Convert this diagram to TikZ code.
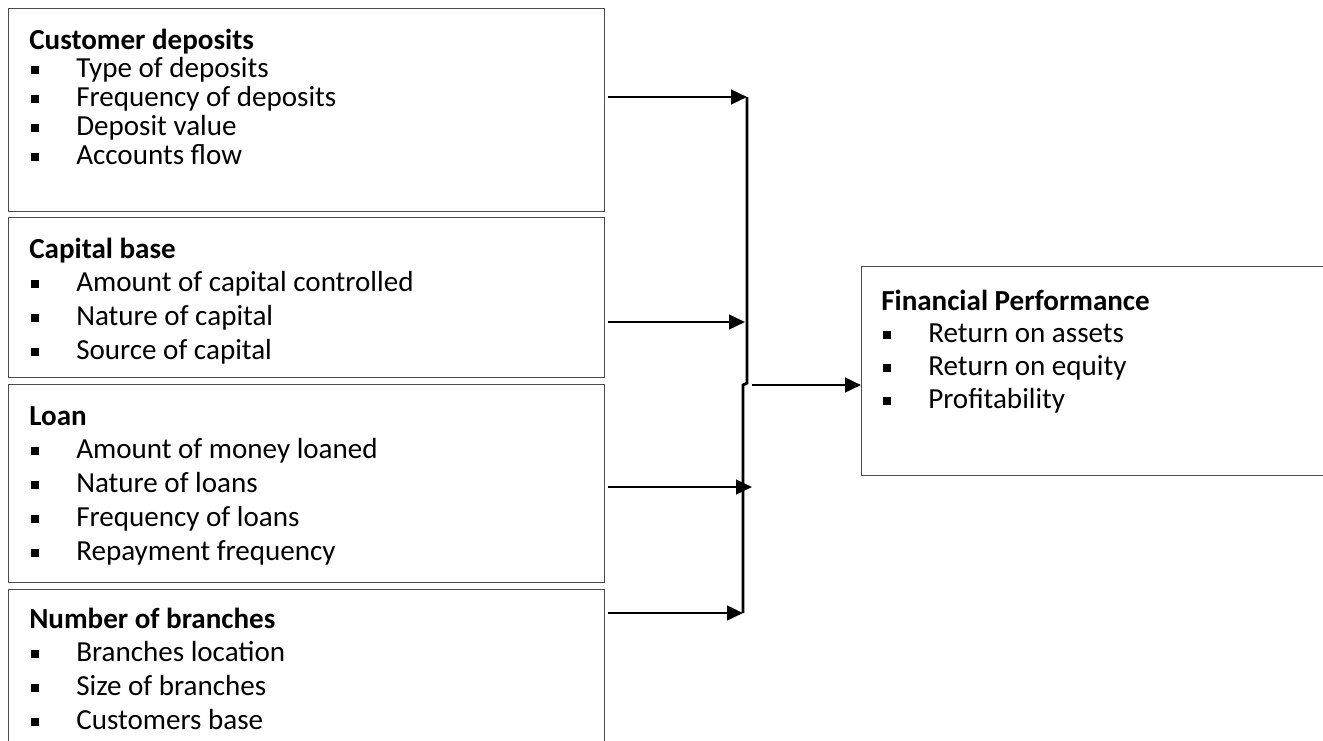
\documentclass[tikz,border=0pt]{standalone}
\usepackage{fontspec}
\setmainfont{Carlito}
\usetikzlibrary{arrows.meta}

\tikzset{
  panel/.style={draw=black!70, line width=0.8pt, anchor=north west, inner sep=0pt},
  entry/.style={anchor=base west, inner sep=0pt, font=\fontsize{21.8}{24}\selectfont},
  head/.style={entry, font=\fontsize{21.8}{24}\selectfont\bfseries},
  feed/.style={line width=1.9pt, -{Triangle[length=12pt,width=11pt]}},
  bus/.style={line width=2.2pt}
}
\newcommand{\bul}[1]{\makebox[35.25pt][l]{\hspace{1.5pt}\rule[0.12em]{6pt}{6pt}}#1}

\begin{document}
\begin{tikzpicture}[x=0.75pt,y=-0.75pt]
    \clip (0,0) rectangle (1323,740);

    % the four driver boxes and the outcome box
    \node[panel, minimum width=447pt, minimum height=152.25pt] (deposits) at (8,8) {};
    \node[panel, minimum width=447pt, minimum height=120pt] (capital) at (8,217) {};
    \node[panel, minimum width=447pt, minimum height=148.5pt] (loan) at (8,384) {};
    \node[panel, minimum width=447pt, minimum height=130pt] (branches) at (8,589) {};
    \node[panel, minimum width=360pt, minimum height=156.75pt] (perf) at (861,266) {};

    \node[head] (deposits-h) at (29,49) {Customer deposits};
    \foreach \txt [count=\i] in {Type of deposits,Frequency of deposits,Deposit value,Accounts flow}
        \node[entry] (deposits-\i) at (29,48+29*\i) {\bul{\txt}};

    \node[head] (capital-h) at (29,258) {Capital base};
    \foreach \txt [count=\i] in {Amount of capital controlled,Nature of capital,Source of capital}
        \node[entry] (capital-\i) at (29,257+34*\i) {\bul{\txt}};

    \node[head] (loan-h) at (29,425) {Loan};
    \foreach \txt [count=\i] in {Amount of money loaned,Nature of loans,Frequency of loans,Repayment frequency}
        \node[entry] (loan-\i) at (29,424+34*\i) {\bul{\txt}};

    \node[head] (branches-h) at (29,628) {Number of branches};
    \foreach \txt [count=\i] in {Branches location,Size of branches,Customers base}
        \node[entry] (branches-\i) at (29,627+34*\i) {\bul{\txt}};

    \node[head] (perf-h) at (881,310) {Financial Performance};
    \foreach \txt [count=\i] in {Return on assets,Return on equity,Profitability}
        \node[entry] (perf-\i) at (881,309+33*\i) {\bul{\txt}};

    % collecting line
    \coordinate (top) at (747,97);
    \coordinate (jogA) at (747,383);
    \coordinate (jogB) at (743,385);
    \coordinate (bottom) at (743,613);
    \draw[bus] (top) -- (jogA) -- (jogB) -- (bottom);

    \draw[feed] ([xshift=2pt]deposits.east |- top) -- (top);
    \draw[feed] ([xshift=2pt]capital.east |- 0,322) -- (745,322);
    \draw[feed] ([xshift=2pt]loan.east |- 0,487) -- (752,487);
    \draw[feed] ([xshift=2pt]branches.east |- bottom) -- (bottom);
    \draw[feed] (752,385) -- (perf.west |- jogB);
\end{tikzpicture}
\end{document}
